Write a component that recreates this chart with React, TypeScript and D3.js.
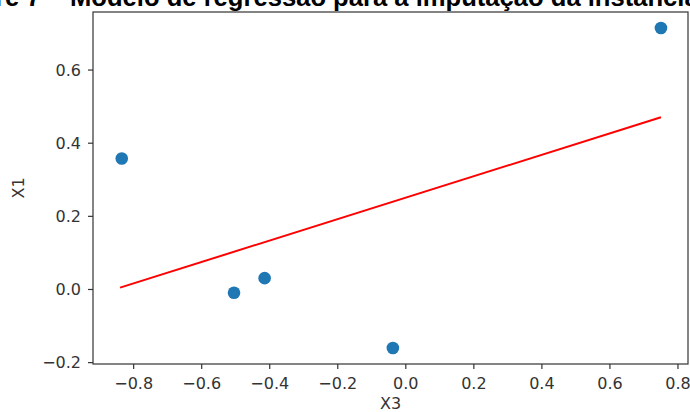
import React from 'react';
import * as d3 from 'd3';

// scatter of the observed pairs (X3 -> X1)
const x3Values = [0.75, -0.835, -0.505, -0.415, -0.038];
const x1Values = [0.715, 0.358, -0.009, 0.031, -0.16];

// fitted regression line, end points
const fitX = [-0.84, 0.75];
const fitY = [0.005, 0.471];

const xTicks = [-0.8, -0.6, -0.4, -0.2, 0.0, 0.2, 0.4, 0.6, 0.8];
const yTicks = [-0.2, 0.0, 0.2, 0.4, 0.6];

const titlePrefix = 'Figure 7 –';
const titleText = 'Modelo de regressão para a imputação da instância 1';

const width = 690;
const height = 412;
const margin = { top: 12, right: 2, bottom: 48, left: 93 };

const padded = (lo: number, hi: number) => {
  const pad = (hi - lo) * 0.05;
  return [lo - pad, hi + pad];
};

const App = () => {
  const allX = [...x3Values, ...fitX];
  const allY = [...x1Values, ...fitY];
  const [xMin, xMax] = d3.extent(allX) as [number, number];
  const [yMin, yMax] = d3.extent(allY) as [number, number];

  const xScale = d3.scaleLinear()
    .domain(padded(xMin, xMax))
    .range([margin.left, width - margin.right]);
  const yScale = d3.scaleLinear()
    .domain(padded(yMin, yMax))
    .range([height - margin.bottom, margin.top]);

  const fmt = d3.format('.1f');
  const line = d3.line<number>()
    .x((d, i) => xScale(fitX[i]))
    .y(d => yScale(d));

  const x0 = margin.left;
  const x1 = width - margin.right;
  const y0 = height - margin.bottom;
  const y1 = margin.top;
  const tickColor = '#333';
  const tickFont = { fontFamily: 'DejaVu Sans', fontSize: 16, fill: '#333' };
  const titleFont = { fontFamily: 'Liberation Sans', fontWeight: 'bold', fontSize: 25.6, fill: '#000' };

  return (
    <svg width={width} height={height}
      style={{ position: 'absolute', left: 0, top: 0, background: '#fff' }}>
      {/* caption above the plot, cut by the top edge as in the source */}
      <text x={62} y={6} textAnchor="end" style={titleFont}>{titlePrefix}</text>
      <text x={70} y={6} style={titleFont}>{titleText}</text>

      <path d={line(fitY) || ''} fill="none" stroke="#ff0000" strokeWidth={2} />

      {x3Values.map((v, i) => (
        <circle key={i} cx={xScale(v)} cy={yScale(x1Values[i])} r={6.3} fill="#1f77b4" />
      ))}

      <rect x={x0} y={y1} width={x1 - x0} height={y0 - y1}
        fill="none" stroke={tickColor} strokeWidth={1.2} />

      {xTicks.map(t => (
        <g key={'x' + t} transform={`translate(${xScale(t)},${y0})`}>
          <line y2={5} stroke={tickColor} strokeWidth={1.2} />
          <text y={25} textAnchor="middle" style={tickFont}>{fmt(t)}</text>
        </g>
      ))}
      {yTicks.map(t => (
        <g key={'y' + t} transform={`translate(${x0},${yScale(t)})`}>
          <line x2={-5} stroke={tickColor} strokeWidth={1.2} />
          <text x={-12} dy="0.35em" textAnchor="end" style={tickFont}>{fmt(t)}</text>
        </g>
      ))}

      <text x={(x0 + x1) / 2} y={409} textAnchor="middle" style={tickFont}>X3</text>
      <text transform={`translate(24,${(y0 + y1) / 2}) rotate(-90)`} textAnchor="middle" style={tickFont}>X1</text>
    </svg>
  );
};

export default App;
